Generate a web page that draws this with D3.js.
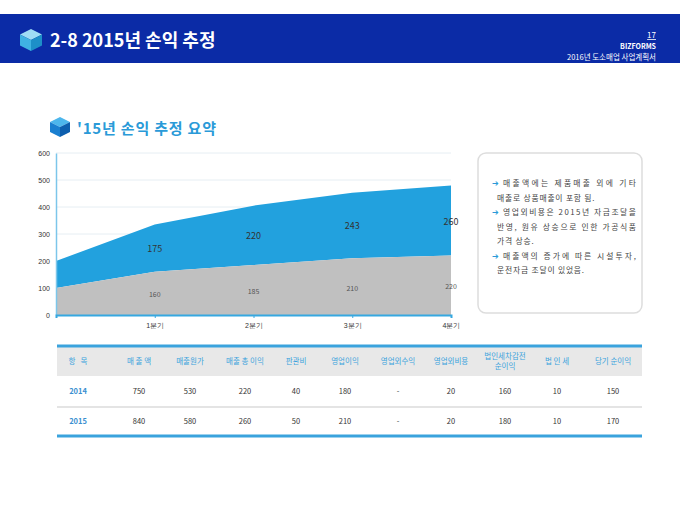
<!DOCTYPE html>
<html><head><meta charset="utf-8">
<script src="https://cdn.jsdelivr.net/npm/d3@7"></script>
<style>body{margin:0;background:#fff}svg{font-family:"Malgun Gothic","Noto Sans CJK KR",sans-serif}</style>
</head><body><svg id="c" width="680" height="510"></svg>
<script>
const categories = ["", "1분기", "2분기", "3분기", "4분기"];
const costValues = [100, 160, 185, 210, 220];
const profitValues = [100, 175, 220, 243, 260];
const yTicks = [0, 100, 200, 300, 400, 500, 600];
const tableHeaders = ["항   목","매 출 액","매출원가","매출 총 이익","판관비","영업이익","영업외수익","영업외비용","법인세차감전\n순이익","법 인 세","당기 순이익"];
const row2014 = ["2014","750","530","220","40","180","-","20","160","10","150"];
const row2015 = ["2015","840","580","260","50","210","-","20","180","10","170"];
const notes = [["매출액에는 제품매출 외에 기타","매출로 상품매출이 포함 됨."],["영업외비용은 2015년 자금조달을","반영, 원유 상승으로 인한 가공식품","가격 상승."],["매출액의 증가에 따른 시설투자,","운전자금 조달이 있었음."]];

const svg = d3.select("#c");
svg.append("rect").attr("x",0).attr("y",14).attr("width",680).attr("height",49).attr("fill","#0B2BA6");
function cube(g,x,y,s,top,left,right){
  const h=s/2;
  g.append("path").attr("d",`M${x},${y-h} L${x+h},${y-h/2} L${x},${y} L${x-h},${y-h/2}Z`).attr("fill",top);
  g.append("path").attr("d",`M${x-h},${y-h/2} L${x},${y} L${x},${y+h} L${x-h},${y+h/2}Z`).attr("fill",left);
  g.append("path").attr("d",`M${x+h},${y-h/2} L${x},${y} L${x},${y+h} L${x+h},${y+h/2}Z`).attr("fill",right);
}
cube(svg,31,40,22,"#9fdcf5","#3fb2e3","#1d8fc8");
svg.append("text").attr("x",50).attr("y",47).attr("fill","#fff").attr("font-size",18).attr("font-weight","bold").text("2-8 2015년 손익 추정");
svg.append("text").attr("x",656).attr("y",38).attr("fill","#fff").attr("font-size",8).attr("text-anchor","end").attr("text-decoration","underline").text("17");
svg.append("text").attr("x",656).attr("y",49).attr("fill","#fff").attr("font-size",7).attr("font-weight","bold").attr("text-anchor","end").text("BIZFORMS");
svg.append("text").attr("x",656).attr("y",60).attr("fill","#fff").attr("font-size",7.5).attr("text-anchor","end").text("2016년 도소매업 사업계획서");
cube(svg,60,127,20,"#4db6ec","#1a7fd0","#0d5fae");
svg.append("text").attr("x",77).attr("y",134).attr("fill","#2a9ad8").attr("font-size",15).attr("font-weight","bold").attr("letter-spacing",0.8).text("'15년 손익 추정 요약");

const x = d3.scalePoint().domain(d3.range(categories.length)).range([56,451]);
const y = d3.scaleLinear().domain([0,600]).range([315,153]);
const g = svg.append("g");
yTicks.forEach(t=>{ g.append("line").attr("x1",56).attr("x2",451).attr("y1",y(t)).attr("y2",y(t)).attr("stroke","#e6eef3"); });
const data = categories.map((c,i)=>({i,a:costValues[i],b:profitValues[i]}));
g.append("path").datum(data).attr("fill","#22A1DE").attr("d",d3.area().x(d=>x(d.i)).y0(d=>y(d.a)).y1(d=>y(d.a+d.b)));
g.append("path").datum(data).attr("fill","#C0C0C0").attr("d",d3.area().x(d=>x(d.i)).y0(y(0)).y1(d=>y(d.a)));
g.append("g").attr("transform","translate(56,0)").call(d3.axisLeft(y).tickValues(yTicks).tickSize(0).tickPadding(6))
 .call(a=>{a.select(".domain").attr("stroke","#7cc6ea").attr("stroke-width",1.5);a.selectAll("text").attr("font-size",7).attr("fill","#333");});
g.append("g").attr("transform","translate(0,315)").call(d3.axisBottom(x).tickSize(3).tickFormat(i=>categories[i]).tickPadding(5))
 .call(a=>{a.select(".domain").attr("stroke","#36a8e0").attr("stroke-width",2);a.selectAll("line").attr("stroke","#36a8e0");a.selectAll("text").attr("font-size",7).attr("fill","#333");});
data.slice(1).forEach(d=>{
  g.append("text").attr("x",x(d.i)).attr("y",y(d.a/2)+4).attr("text-anchor","middle").attr("font-size",7).attr("fill","#555").text(d.a);
  g.append("text").attr("x",x(d.i)).attr("y",y(d.a+d.b/2)+4).attr("text-anchor","middle").attr("font-size",9).attr("fill","#333").text(d.b);
});

svg.append("rect").attr("x",478).attr("y",153).attr("width",164).attr("height",160).attr("rx",8).attr("fill","#fff").attr("stroke","#ddd").attr("stroke-width",1.5);
let ny=186;
notes.forEach(n=>{
  n.forEach((line,j)=>{
    if(j===0) svg.append("text").attr("x",492).attr("y",ny).attr("font-size",8).attr("fill","#2a9ad8").text("➔");
    const t=svg.append("text").attr("x",j===0?503:497).attr("y",ny).attr("font-size",7.8).attr("fill","#444").text(line);
    if(j===0 || line.length>15) t.attr("textLength",(j===0?636-503:636-497)).attr("lengthAdjust","spacing");
    else t.attr("letter-spacing",0.8);
    ny+=14.5;
  });
});

const cols=[78,139,190,245,296,345,398,451,505,557,613];
svg.append("rect").attr("x",57).attr("y",347).attr("width",585).attr("height",29).attr("fill","#e8e8e8");
svg.append("line").attr("x1",57).attr("x2",642).attr("y1",346).attr("y2",346).attr("stroke","#3AA3DD").attr("stroke-width",3);
svg.append("line").attr("x1",57).attr("x2",642).attr("y1",407).attr("y2",407).attr("stroke","#bbb").attr("stroke-width",0.8);
svg.append("line").attr("x1",57).attr("x2",642).attr("y1",436).attr("y2",436).attr("stroke","#3AA3DD").attr("stroke-width",3);
tableHeaders.forEach((h,i)=>{
  const ls=h.split("\n");
  ls.forEach((l,k)=>svg.append("text").attr("x",cols[i]).attr("y",364+(k-(ls.length-1)/2)*10).attr("text-anchor","middle").attr("font-size",7.5).attr("fill","#3aa3dd").style("white-space","pre").text(l));
});
[[row2014,394],[row2015,424]].forEach(([r,yy])=>r.forEach((v,i)=>svg.append("text").attr("x",cols[i]).attr("y",yy).attr("text-anchor","middle").attr("font-size",7.5).attr("font-weight",i===0?"bold":"normal").attr("fill",i===0?"#3a8fd0":"#333").text(v)));
</script></body></html>
